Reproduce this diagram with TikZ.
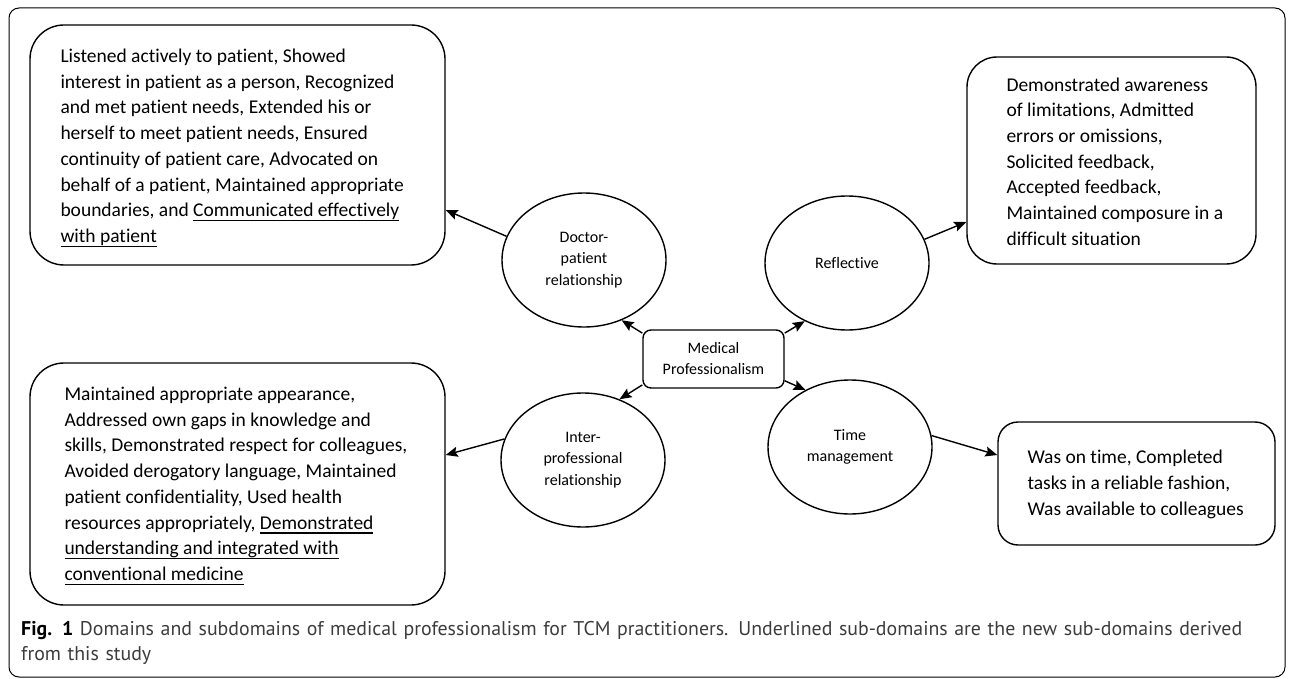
\documentclass[tikz,border=0pt]{standalone}
\usepackage{fontspec}
\setmainfont{Carlito}[Ligatures={NoCommon}]
\newfontfamily\capfont{PT Sans}
\usetikzlibrary{arrows.meta,shapes.geometric}
\definecolor{capgray}{RGB}{60,60,60}
\newcommand\ulx[1]{\leavevmode\setbox0\hbox{#1}\rlap{\rule[-4.5pt]{\wd0}{1.1pt}}\box0}
\begin{document}
\begin{tikzpicture}[x=1pt,y=-1pt,
  frame/.style={draw, line width=1pt, rounded corners=10pt},
  subbox/.style={draw, line width=1.4pt, rounded corners=#1, inner sep=0pt},
  subbox/.default=34pt,
  subtext/.style={anchor=west, align=left, inner sep=0pt,
    font=\fontsize{19.5}{25.7}\selectfont},
  dom/.style={draw, ellipse, line width=1.4pt, minimum width=164pt,
    minimum height=134pt, inner sep=0pt, align=center,
    font=\fontsize{16}{21.5}\selectfont},
  central/.style={draw, line width=1.4pt, rounded corners=8pt,
    minimum width=141pt, minimum height=58pt, inner sep=0pt, align=center,
    font=\fontsize{16}{21}\selectfont},
  arr/.style={-{Stealth[length=12pt,width=10pt,inset=2pt]}, line width=1.4pt},
  caption/.style={anchor=north west, align=left, text width=1262pt,
    inner sep=0pt, text=capgray, font=\capfont\fontsize{19.85}{25}\selectfont}
]
\useasboundingbox (0,0) rectangle (1292,679);
\draw[frame] (9,8) rectangle (1285,677);

% sub-domain boxes
\node[subbox, minimum width=415pt, minimum height=240pt] (b1) at (237.5,145) {};
\node[subtext] (t1) at ([xshift=31pt,yshift=-3pt]b1.west) {Listened actively to patient, Showed\\
  interest in patient as a person, Recognized\\
  and met patient needs, Extended his or\\
  herself to meet patient needs, Ensured\\
  continuity of patient care, Advocated on\\
  behalf of a patient, Maintained appropriate\\
  boundaries, and \ulx{Communicated effectively}\\
  \ulx{with patient}};

\node[subbox, minimum width=415pt, minimum height=242pt] (b2) at (237.5,484) {};
\node[subtext] (t2) at ([xshift=35pt,yshift=-2pt]b2.west) {Maintained appropriate appearance,\\
  Addressed own gaps in knowledge and\\
  skills, Demonstrated respect for colleagues,\\
  Avoided derogatory language, Maintained\\
  patient confidentiality, Used health\\
  resources appropriately, \ulx{Demonstrated}\\
  \ulx{understanding and integrated with}\\
  \ulx{conventional medicine}};

\node[subbox=30pt, minimum width=289pt, minimum height=207pt] (b3) at (1111.5,160.5) {};
\node[subtext] (t3) at ([xshift=40pt,yshift=-1pt]b3.west) {Demonstrated awareness\\
  of limitations, Admitted\\
  errors or omissions,\\
  Solicited feedback,\\
  Accepted feedback,\\
  Maintained composure in a\\
  difficult situation};

\node[subbox=20pt, minimum width=277pt, minimum height=123pt] (b4) at (1136.5,483.5) {};
\node[subtext] (t4) at ([xshift=30pt,yshift=-1pt]b4.west) {Was on time, Completed\\
  tasks in a reliable fashion,\\
  Was available to colleagues};

% domains
\node[dom] (doc) at (584,260) {Doctor-\\patient\\relationship};
\node[dom] (refl) at (847,263) {Reflective};
\node[dom] (inter) at (583,460) {Inter-\\professional\\relationship};
\node[dom] (time) at (850,447) {Time\\management};

\node[central] (med) at (713.5,359) {Medical\\Professionalism};

% connectors
\draw[arr] (med.160) -- (doc.-58);
\draw[arr] (med.200) -- (inter.59);
\draw[arr] (med.20) -- (refl.234);
\draw[arr] (med.-17) -- (time.128);
\draw[arr] (doc.163) -- ([yshift=-65pt]b1.east);
\draw[arr] (inter.165) -- ([yshift=29pt]b2.east);
\draw[arr] (refl.17) -- ([yshift=-61.5pt]b3.west);
\draw[arr] (time.8) -- ([yshift=28.5pt]b4.west);

% caption
\node[caption] (cap) at (21,621) {{\color{black}\textbf{Fig. 1}} Domains and subdomains of medical professionalism for TCM practitioners. Underlined sub-domains are the new sub-domains derived\\
from this study};
\end{tikzpicture}
\end{document}
